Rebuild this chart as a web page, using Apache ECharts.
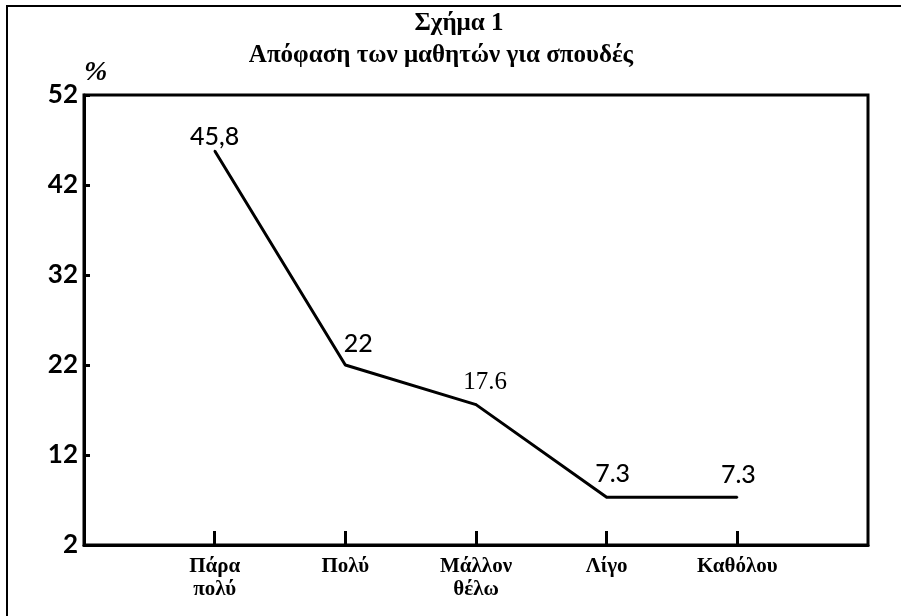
<!DOCTYPE html>
<html>
<head>
<meta charset="utf-8">
<script src="https://cdn.jsdelivr.net/npm/echarts@6/dist/echarts.min.js"></script>
<style>
html,body{margin:0;padding:0;background:#fff;}
#chart{width:901px;height:616px;}
</style>
</head>
<body>
<div id="chart"></div>
<script>
var categories = ['', 'Πάρα\nπολύ', 'Πολύ', 'Μάλλον\nθέλω', 'Λίγο', 'Καθόλου', ''];
var values = [null, 45.8, 22, 17.6, 7.3, 7.3, null];
var valueLabels = ['', '45,8', '22', '17.6', '7.3', '7.3', ''];
var yMin = 2, yMax = 52, yStep = 10;
var titleLine1 = 'Σχήμα 1';
var titleLine2 = 'Απόφαση των μαθητών για σπουδές';

var labelStyles = [
  null,
  {offset: [0, 0], fontFamily: 'Lato'},
  {offset: [13, -8], fontFamily: 'Lato'},
  {offset: [9, -9], fontFamily: 'Liberation Serif'},
  {offset: [6, -10], fontFamily: 'Lato'},
  {offset: [1, -9], fontFamily: 'Lato'},
  null
];

var seriesData = values.map(function (v, i) {
  if (v === null) return null;
  var ls = labelStyles[i];
  return {
    value: v,
    label: {
      show: true,
      position: 'top',
      distance: 0,
      offset: ls.offset,
      fontFamily: ls.fontFamily,
      fontSize: 25,
      fontWeight: 500,
      color: '#000',
      formatter: valueLabels[i]
    }
  };
});

var chart = echarts.init(document.getElementById('chart'));
chart.setOption({
  backgroundColor: '#fff',
  animation: false,
  grid: {left: 84, top: 95, right: 33, bottom: 71, show: true, borderColor: '#000', borderWidth: 3, containLabel: false},
  graphic: [
    {type: 'rect', shape: {x: 7, y: 6, width: 1000, height: 1000}, style: {fill: 'none', stroke: '#000', lineWidth: 2}, z: -1},
    {type: 'text', x: 459, y: 24, style: {text: titleLine1, font: 'bold 25px "Liberation Serif"', fill: '#000', align: 'center', verticalAlign: 'middle'}},
    {type: 'text', x: 441, y: 56, style: {text: titleLine2, font: 'bold 25px "Liberation Serif"', fill: '#000', align: 'center', verticalAlign: 'middle'}}
  ],
  xAxis: {
    type: 'category',
    data: categories,
    boundaryGap: false,
    axisLine: {show: true, lineStyle: {color: '#000', width: 3}},
    axisTick: {show: true, inside: true, length: 14, lineStyle: {color: '#000', width: 3},
      interval: function (i, v) { return v !== ''; }},
    axisLabel: {interval: 0, margin: 10, color: '#000', fontFamily: 'Liberation Serif', fontWeight: 'bold', fontSize: 21, lineHeight: 23},
    splitLine: {show: false}
  },
  yAxis: {
    type: 'value',
    min: yMin, max: yMax, interval: yStep,
    name: '%',
    nameLocation: 'end',
    nameGap: 8,
    nameTextStyle: {align: 'left', verticalAlign: 'bottom', fontFamily: 'Liberation Serif', fontWeight: 'bold', fontStyle: 'italic', fontSize: 28, color: '#000'},
    axisLine: {show: true, lineStyle: {color: '#000', width: 3}},
    axisTick: {show: true, inside: true, length: 6, lineStyle: {color: '#000', width: 3}},
    axisLabel: {margin: 6, color: '#000', fontFamily: 'Lato', fontWeight: 'bold', fontSize: 26},
    splitLine: {show: false}
  },
  series: [{
    type: 'line',
    data: seriesData,
    symbol: 'circle',
    symbolSize: 2,
    itemStyle: {color: '#000'},
    lineStyle: {color: '#000', width: 3},
    connectNulls: false
  }]
});
</script>
</body>
</html>
